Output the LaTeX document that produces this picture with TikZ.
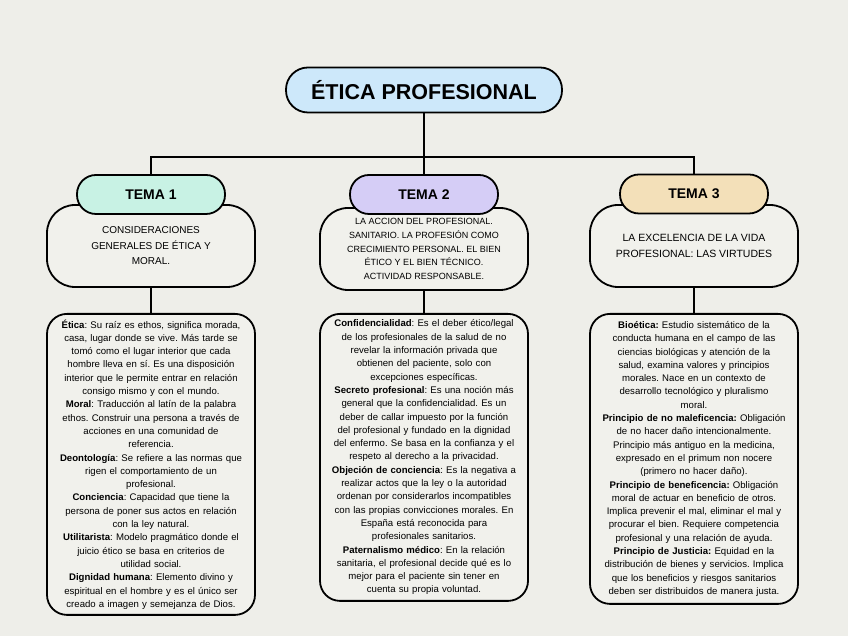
\documentclass[tikz,border=0pt]{standalone}
\usepackage{fontspec}
\setmainfont{Liberation Sans}
\usepackage{xcolor}
\definecolor{bgcol}{HTML}{EEEEE9}
\definecolor{boxcol}{HTML}{F1F1EC}
\definecolor{titlecol}{HTML}{CDE8FA}
\definecolor{mintcol}{HTML}{C8F2E4}
\definecolor{lilaccol}{HTML}{D5CDF6}
\definecolor{sandcol}{HTML}{F3E0B9}
\frenchspacing

\begin{document}
\begin{tikzpicture}[
        x=1pt, y=1pt,
        titlebox/.style={draw, line width=1.8pt, rounded corners=22pt, fill=titlecol, minimum width=276pt, minimum height=45pt, font=\fontsize{21.5}{24}\selectfont\bfseries},
        pill/.style={draw, line width=1.8pt, rounded corners=19pt, fill=#1, minimum width=148pt, minimum height=39pt, font=\fontsize{14}{16}\selectfont\bfseries},
        descbox/.style={draw, line width=1.8pt, rounded corners=28pt, fill=boxcol, minimum width=208pt, minimum height=82pt, align=center, inner sep=0pt, font=\fontsize{10}{15.5}\selectfont},
        detbox/.style={draw, line width=1.8pt, rounded corners=20pt, fill=boxcol, text width=204pt, inner xsep=2pt, inner ysep=0pt, minimum height=#1, align=center, anchor=north, font=\fontsize{9.6}{13.3}\selectfont},
        conn/.style={line width=1.4pt},
    ]
    % ---- CANVAS ----
    \fill[bgcol] (0,0) rectangle (848,636);
    \useasboundingbox (0,0) rectangle (848,636);

    % ---- TITLE ----
    \node[titlebox] (title) at (424,546) {ÉTICA PROFESIONAL};

    % ---- TOPIC BOXES ----
    \node[descbox] (desc1) at (151,390) {CONSIDERACIONES\\GENERALES DE ÉTICA Y\\MORAL.};
    \node[descbox, font=\fontsize{9}{13.8}\selectfont] (desc2) at (424,387) {LA ACCION DEL PROFESIONAL.\\SANITARIO. LA PROFESIÓN COMO\\CRECIMIENTO PERSONAL. EL BIEN\\ÉTICO Y EL BIEN TÉCNICO.\\ACTIVIDAD RESPONSABLE.};
    \node[descbox, font=\fontsize{10.5}{15.4}\selectfont] (desc3) at (694,390) {LA EXCELENCIA DE LA VIDA\\PROFESIONAL: LAS VIRTUDES};

    \node[pill=mintcol] (tema1) at (151,441.5) {TEMA 1};
    \node[pill=lilaccol] (tema2) at (424,441.5) {TEMA 2};
    \node[pill=sandcol] (tema3) at (694,442) {TEMA 3};

    % ---- DETAIL BOXES ----
    \node[detbox=301pt] (det1) at (151,323) {%
        \textbf{Ética}: Su raíz es ethos, significa morada,\\
        casa, lugar donde se vive. Más tarde se\\
        tomó como el lugar interior que cada\\
        hombre lleva en sí. Es una disposición\\
        interior que le permite entrar en relación\\
        consigo mismo y con el mundo.\\
        \textbf{Moral}: Traducción al latín de la palabra\\
        ethos. Construir una persona a través de\\
        acciones en una comunidad de\\
        referencia.\\
        \textbf{Deontología}: Se refiere a las normas que\\
        rigen el comportamiento de un\\
        profesional.\\
        \textbf{Conciencia}: Capacidad que tiene la\\
        persona de poner sus actos en relación\\
        con la ley natural.\\
        \textbf{Utilitarista}: Modelo pragmático donde el\\
        juicio ético se basa en criterios de\\
        utilidad social.\\
        \textbf{Dignidad humana}: Elemento divino y\\
        espiritual en el hombre y es el único ser\\
        creado a imagen y semejanza de Dios.};
    \node[detbox=287pt] (det2) at (424,323) {%
        \textbf{Confidencialidad}: Es el deber ético/legal\\
        de los profesionales de la salud de no\\
        revelar la información privada que\\
        obtienen del paciente, solo con\\
        excepciones específicas.\\
        \textbf{Secreto profesional}: Es una noción más\\
        general que la confidencialidad. Es un\\
        deber de callar impuesto por la función\\
        del profesional y fundado en la dignidad\\
        del enfermo. Se basa en la confianza y el\\
        respeto al derecho a la privacidad.\\
        \textbf{Objeción de conciencia}: Es la negativa a\\
        realizar actos que la ley o la autoridad\\
        ordenan por considerarlos incompatibles\\
        con las propias convicciones morales. En\\
        España está reconocida para\\
        profesionales sanitarios.\\
        \textbf{Paternalismo médico}: En la relación\\
        sanitaria, el profesional decide qué es lo\\
        mejor para el paciente sin tener en\\
        cuenta su propia voluntad.};
    \node[detbox=290pt] (det3) at (694,323) {%
        \textbf{Bioética:} Estudio sistemático de la\\
        conducta humana en el campo de las\\
        ciencias biológicas y atención de la\\
        salud, examina valores y principios\\
        morales. Nace en un contexto de\\
        desarrollo tecnológico y pluralismo\\
        moral.\\
        \textbf{Principio de no maleficencia:} Obligación\\
        de no hacer daño intencionalmente.\\
        Principio más antiguo en la medicina,\\
        expresado en el primum non nocere\\
        (primero no hacer daño).\\
        \textbf{Principio de beneficencia:} Obligación\\
        moral de actuar en beneficio de otros.\\
        Implica prevenir el mal, eliminar el mal y\\
        procurar el bien. Requiere competencia\\
        profesional y una relación de ayuda.\\
        \textbf{Principio de Justicia:} Equidad en la\\
        distribución de bienes y servicios. Implica\\
        que los beneficios y riesgos sanitarios\\
        deben ser distribuidos de manera justa.};

    % ---- CONNECTORS ----
    \coordinate (bar) at (424,479);
    \draw[conn] (title.south) -- (tema2.north);
    \draw[conn] (tema1.north) |- (bar) -| (tema3.north);
    \draw[conn] (desc1.south) -- (det1.north);
    \draw[conn] (desc2.south) -- (det2.north);
    \draw[conn] (desc3.south) -- (det3.north);

\end{tikzpicture}
\end{document}
